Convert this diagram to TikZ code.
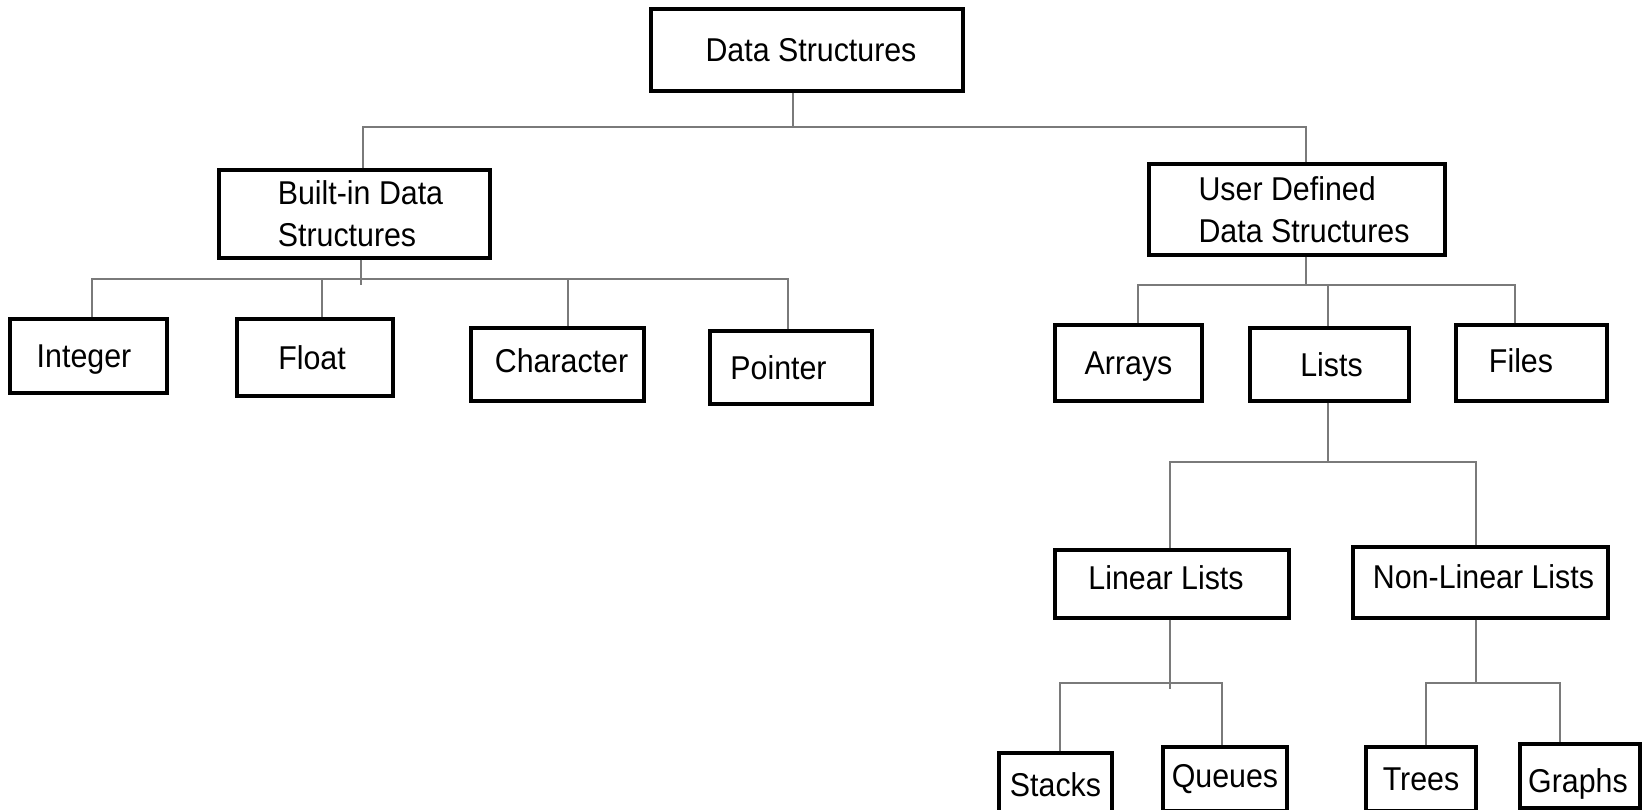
\documentclass[tikz,border=0pt]{standalone}
\usepackage{fontspec}
\setmainfont{Liberation Sans}[FakeStretch=0.92]
\begin{document}
\begin{tikzpicture}[x=1pt,y=-1pt,
  box/.style={draw=black,line width=3.3pt,rectangle,inner sep=0pt,align=left,
    font=\fontsize{33}{42}\selectfont},
  one/.style={text height=23.6pt,text depth=0pt},
  conn/.style={draw=black!52,line width=2.2pt}]
\useasboundingbox (0,0) rectangle (1642,810);
\clip (0,0) rectangle (1642,810);
% nodes
\node[box,one,minimum width=312,minimum height=82] (ds) at (807,50) {\hspace*{8pt}Data Structures};
\node[box,minimum width=271,minimum height=88] (bi) at (354.5,214) {\hspace*{12pt}Built-in Data\\\hspace*{12pt}Structures};
\node[box,minimum width=296,minimum height=91] (ud) at (1297,209.5) {\hspace*{14pt}User Defined\\\hspace*{14pt}Data Structures};
\node[box,one,minimum width=157,minimum height=74] (int) at (88.5,356) {\hspace*{-9pt}Integer};
\node[box,one,minimum width=156,minimum height=77] (flt) at (315,357.5) {\hspace*{-6pt}Float};
\node[box,one,text depth=8pt,minimum width=173,minimum height=73] (chr) at (557.5,364.5) {\hspace*{8pt}Character};
\node[box,one,minimum width=162,minimum height=73] (ptr) at (791,367.5) {\hspace*{-25pt}Pointer};
\node[box,one,minimum width=147,minimum height=76] (arr) at (1128.5,363) {Arrays};
\node[box,one,minimum width=159,minimum height=73] (lst) at (1329.5,364.5) {\hspace*{4pt}Lists};
\node[box,one,text depth=5pt,minimum width=151,minimum height=76] (fil) at (1531.5,363) {\hspace*{-21pt}Files};
\node[box,one,text depth=12pt,minimum width=234,minimum height=68] (lin) at (1172,584) {\hspace*{-12pt}Linear Lists};
\node[box,one,text depth=11pt,minimum width=255,minimum height=71] (nl) at (1480.5,582.5) {\hspace*{6pt}Non-Linear Lists};
\node[box,one,minimum width=113,minimum height=64] (stk) at (1055.5,785) {Stacks};
\node[box,one,text depth=6pt,minimum width=124,minimum height=64] (que) at (1225,779) {Queues};
\node[box,one,minimum width=110,minimum height=64] (tre) at (1421,779) {Trees};
\node[box,one,text height=32pt,minimum width=120,minimum height=64] (grp) at (1580,776) {\hspace*{-4pt}Graphs};
% bus junctions
\coordinate (b0) at (793,127);
\coordinate (b1) at (361,279);
\coordinate (b2) at (1306,285);
\coordinate (b3) at (1328,462);
\coordinate (b4) at (1170,683);
\coordinate (b5) at (1476,683);
% connectors
\draw[conn] ([xshift=-14pt]ds.south) -- (b0);
\draw[conn] ([xshift=8.5pt]bi.north) |- (b0);
\draw[conn] ([xshift=9pt]ud.north) |- (b0);
\draw[conn] ([xshift=6.5pt]bi.south) -- ++(0,25);
\draw[conn] ([xshift=3.5pt]int.north) |- (b1);
\draw[conn] ([xshift=7pt]flt.north) |- (b1);
\draw[conn] ([xshift=10.5pt]chr.north) |- (b1);
\draw[conn] ([xshift=-3pt]ptr.north) |- (b1);
\draw[conn] ([xshift=9pt]ud.south) -- (b2);
\draw[conn] ([xshift=9.5pt]arr.north) |- (b2);
\draw[conn] ([xshift=-1.5pt]lst.north) |- (b2);
\draw[conn] ([xshift=-16.5pt]fil.north) |- (b2);
\draw[conn] ([xshift=-1.5pt]lst.south) -- (b3);
\draw[conn] ([xshift=-2pt]lin.north) |- (b3);
\draw[conn] ([xshift=-4.5pt]nl.north) |- (b3);
\draw[conn] ([xshift=-2pt]lin.south) -- ++(0,69);
\draw[conn] ([xshift=4.5pt]stk.north) |- (b4);
\draw[conn] ([xshift=-3pt]que.north) |- (b4);
\draw[conn] ([xshift=-4.5pt]nl.south) -- (b5);
\draw[conn] ([xshift=5pt]tre.north) |- (b5);
\draw[conn] ([xshift=-20pt]grp.north) |- (b5);
\end{tikzpicture}
\end{document}
